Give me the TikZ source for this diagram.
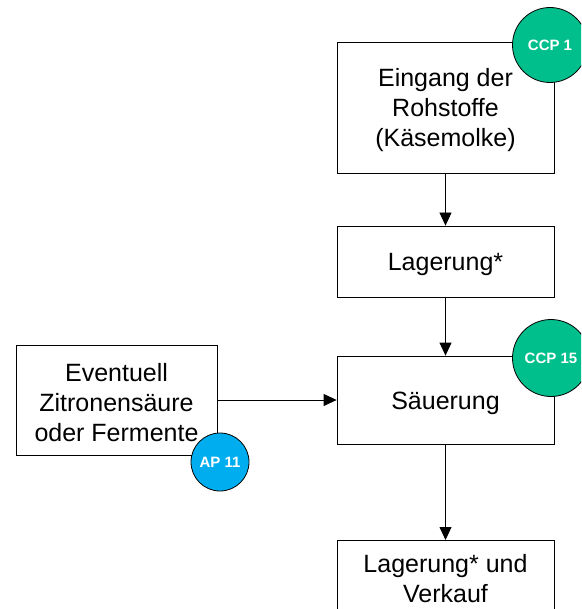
\documentclass[tikz,border=0pt]{standalone}
\usepackage{fontspec}
\setmainfont{Liberation Sans}
\usetikzlibrary{arrows.meta}
\definecolor{ccpgreen}{RGB}{0,191,140}
\definecolor{apblue}{RGB}{0,174,239}
% taller first-line strut so the text sits a little lower in its box
\newcommand{\toppad}{\rule{0pt}{24pt}}
\begin{document}
\begin{tikzpicture}[x=1pt,y=-1pt,
  stepbox/.style={draw=black,line width=0.8pt,fill=white,inner sep=0pt,
    align=center,font=\fontsize{25}{30}\selectfont},
  badge/.style={circle,draw=black,line width=0.8pt,inner sep=0pt,
    text=white,font=\bfseries\fontsize{15}{17}\selectfont},
  flow/.style={line width=0.8pt,-{Triangle[length=13pt,width=12pt]}}]
\useasboundingbox (0,0) rectangle (581,609);
\clip (0,0) rectangle (581,609);
% process steps
\node[stepbox,minimum width=217pt,minimum height=131pt] (eingang) at (445.5,107.5)
  {\toppad Eingang der\\Rohstoffe\\(Käsemolke)};
\node[stepbox,minimum width=217pt,minimum height=71pt] (lager) at (445.5,261.5) {\toppad Lagerung*};
\node[stepbox,minimum width=217pt,minimum height=88pt] (saeu) at (445.5,400) {\toppad Säuerung};
\node[stepbox,minimum width=217pt,inner ysep=14pt,anchor=north] (verkauf) at (445.5,540)
  {Lagerung* und\\Verkauf\\\strut};
\node[stepbox,minimum width=201pt,minimum height=110pt] (zusatz) at (116.5,400)
  {\toppad Eventuell\\Zitronensäure\\oder Fermente};
% connectors
\draw[flow] (eingang.south) -- (lager.north);
\draw[flow] (lager.south) -- (saeu.north);
\draw[flow] (saeu.south) -- (verkauf.north);
\draw[flow] (zusatz.east) -- (saeu.west);
% control point markers
\node[badge,fill=ccpgreen,minimum size=75pt] (ccp1) at (550,45) {CCP 1};
\node[badge,fill=ccpgreen,minimum size=77pt] (ccp15) at (551,358) {CCP 15};
\node[badge,fill=apblue,minimum size=58pt] (ap11) at (220,462) {AP 11};
\end{tikzpicture}
\end{document}
